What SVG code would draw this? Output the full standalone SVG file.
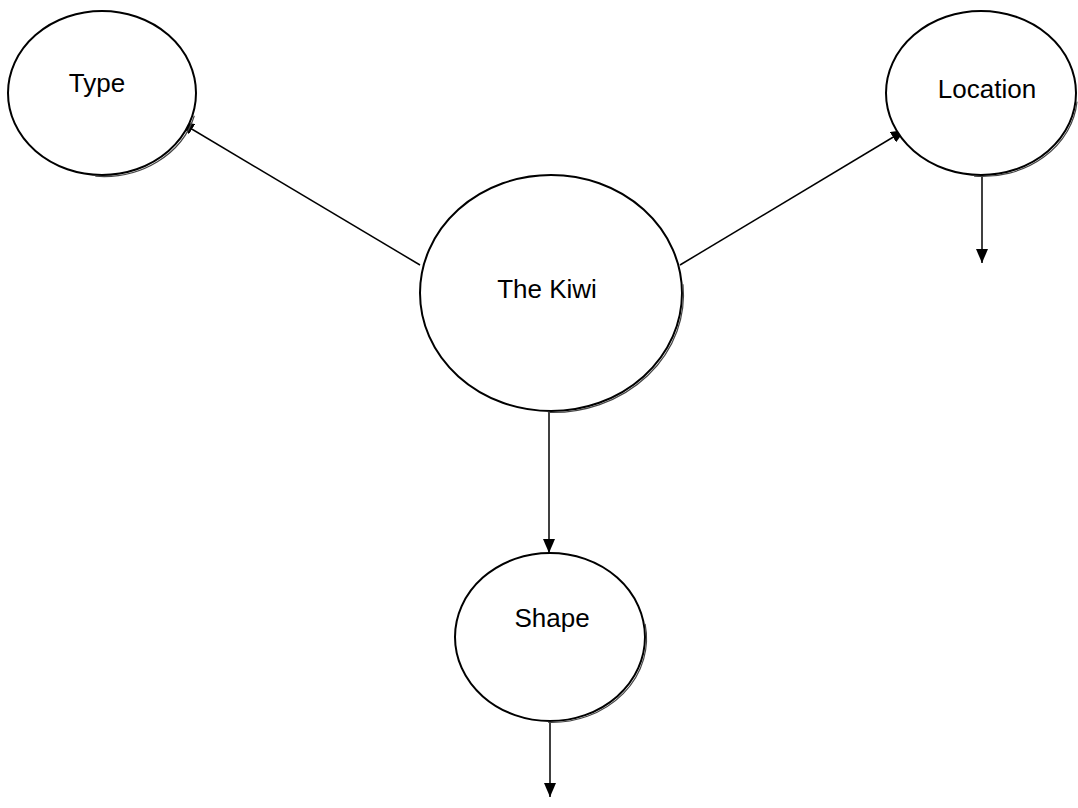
<svg xmlns="http://www.w3.org/2000/svg" width="1078" height="808" viewBox="0 0 1078 808">
<defs>
<marker id="arr" markerUnits="userSpaceOnUse" markerWidth="14" markerHeight="12" refX="14" refY="6" orient="auto">
<path d="M0,0 L14,6 L0,12 z" fill="#000"/>
</marker>
<style>
.node{fill:#fff;stroke:#000;stroke-width:2}
.shadow{fill:none;stroke:#444;stroke-width:1.2}
.lbl{font-family:"Liberation Sans",Arial,sans-serif;font-size:26px;fill:#000;text-anchor:middle}
.conn{stroke:#000;stroke-width:1.5;fill:none}
</style>
</defs>
<rect width="1078" height="808" fill="#fff"/>
<g id="connectors">
<line class="conn" x1="420" y1="265" x2="180" y2="122" marker-end="url(#arr)"/>
<line class="conn" x1="680" y1="265" x2="905" y2="130" marker-end="url(#arr)"/>
<line class="conn" x1="549" y1="412" x2="549" y2="553" marker-end="url(#arr)"/>
<line class="conn" x1="982" y1="175" x2="982" y2="263" marker-end="url(#arr)"/>
<line class="conn" x1="550" y1="722" x2="550" y2="797" marker-end="url(#arr)"/>
</g>
<g id="node-type">
<ellipse class="node" cx="102" cy="93" rx="94" ry="82"/>
<path class="shadow" d="M194.3,115.7 A94,82 0 0 1 95.3,176.2"/>
<text class="lbl" x="97" y="92">Type</text>
</g>
<g id="node-location">
<ellipse class="node" cx="981" cy="93" rx="95" ry="82"/>
<path class="shadow" d="M1077,101.6 A95,82 0 0 1 974.1,176.2"/>
<text class="lbl" x="987" y="98">Location</text>
</g>
<g id="node-kiwi">
<ellipse class="node" cx="551" cy="293" rx="131" ry="118"/>
<path class="shadow" d="M683,284.2 A131,118 0 0 1 547.9,412.4"/>
<text class="lbl" x="547" y="298">The Kiwi</text>
</g>
<g id="node-shape">
<ellipse class="node" cx="550" cy="637" rx="95" ry="84"/>
<path class="shadow" d="M645.1,623.9 A95,84 0 0 1 548.2,722.4"/>
<text class="lbl" x="552" y="627">Shape</text>
</g>
</svg>
